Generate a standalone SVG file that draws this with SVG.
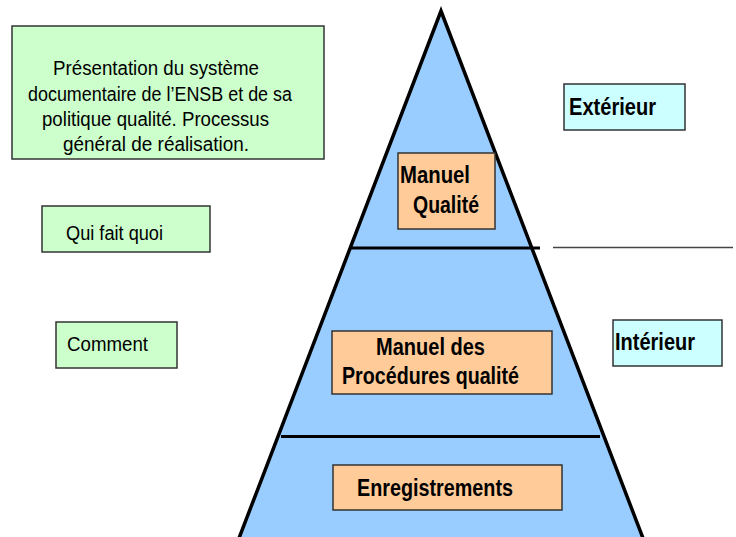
<svg xmlns="http://www.w3.org/2000/svg" width="736" height="537" viewBox="0 0 736 537">
<style>
.box{stroke:#333;stroke-width:1.5}
.green{fill:#CCFFCC}
.cyan{fill:#CCFFFF}
.orange{fill:#FFCC99}
.t{font-family:"Liberation Sans",Arial,sans-serif;fill:#000}
.reg{font-size:19.5px}
.bold{font-size:23px;font-weight:bold}
.sep{stroke:#000;stroke-width:3}
</style>
<rect width="736" height="537" fill="#fff"/>
<g id="pyramid">
<polygon points="441,11 646,546 236,546" fill="#99CCFF" stroke="#000" stroke-width="3.5" stroke-linejoin="miter"/>
</g>
<g id="connectors">
<line class="sep" x1="350" y1="248" x2="540" y2="248"/>
<line class="sep" x1="281" y1="436.5" x2="600" y2="436.5"/>
<line x1="553" y1="247.5" x2="733" y2="247.5" stroke="#444" stroke-width="1.5"/>
</g>
<g id="presentation">
<rect class="box green" x="12" y="26" width="312" height="133"/>
<text class="t reg" x="53" y="75" textLength="206" lengthAdjust="spacingAndGlyphs">Présentation du système</text>
<text class="t reg" x="28" y="101" textLength="264" lengthAdjust="spacingAndGlyphs">documentaire de l’ENSB et de sa</text>
<text class="t reg" x="42" y="126" textLength="227" lengthAdjust="spacingAndGlyphs">politique qualité. Processus</text>
<text class="t reg" x="63" y="151" textLength="186" lengthAdjust="spacingAndGlyphs">général de réalisation.</text>
</g>
<g id="qui-fait-quoi">
<rect class="box green" x="42" y="206" width="168" height="46"/>
<text class="t reg" x="66" y="240" textLength="97" lengthAdjust="spacingAndGlyphs">Qui fait quoi</text>
</g>
<g id="comment">
<rect class="box green" x="56" y="322" width="121" height="46"/>
<text class="t reg" x="67" y="351" textLength="81" lengthAdjust="spacingAndGlyphs">Comment</text>
</g>
<g id="manuel-qualite">
<rect class="box orange" x="398" y="153" width="97" height="76"/>
<text class="t bold" x="400" y="183" textLength="70" lengthAdjust="spacingAndGlyphs">Manuel</text>
<text class="t bold" x="413" y="213" textLength="66" lengthAdjust="spacingAndGlyphs">Qualité</text>
</g>
<g id="manuel-procedures">
<rect class="box orange" x="332" y="331" width="220" height="63"/>
<text class="t bold" x="376" y="355" textLength="109" lengthAdjust="spacingAndGlyphs">Manuel des</text>
<text class="t bold" x="342" y="384" textLength="177" lengthAdjust="spacingAndGlyphs">Procédures qualité</text>
</g>
<g id="enregistrements">
<rect class="box orange" x="333" y="465" width="229" height="45"/>
<text class="t bold" x="357" y="496" textLength="156" lengthAdjust="spacingAndGlyphs">Enregistrements</text>
</g>
<g id="exterieur">
<rect class="box cyan" x="564" y="84" width="121" height="46"/>
<text class="t bold" x="569" y="115" textLength="87" lengthAdjust="spacingAndGlyphs">Extérieur</text>
</g>
<g id="interieur">
<rect class="box cyan" x="613" y="320" width="109" height="46"/>
<text class="t bold" x="615" y="350" textLength="80" lengthAdjust="spacingAndGlyphs">Intérieur</text>
</g>
</svg>
